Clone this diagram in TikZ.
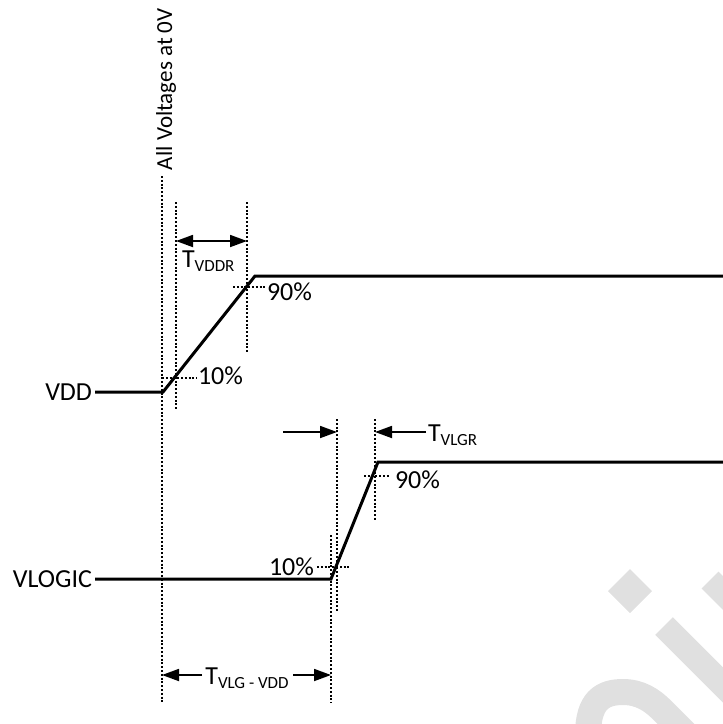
\documentclass[tikz,border=0pt]{standalone}
\usepackage{fontspec}
\setmainfont{Carlito}
\usetikzlibrary{arrows.meta}
\begin{document}
\begin{tikzpicture}[x=1pt,y=-1pt,
  sig/.style={line width=3pt},
  guide/.style={line width=1.3pt, dash pattern=on 2pt off 1.8pt},
  dimline/.style={line width=1.8pt},
  tip/.style={-{Triangle[length=17pt,width=12pt]}},
  twotips/.style={{Triangle[length=17pt,width=12pt]}-{Triangle[length=17pt,width=12pt]}},
  lbl/.style={font=\fontsize{26}{30}\selectfont, inner sep=0pt, outer sep=0pt},
  wm/.style={black!12}]
\useasboundingbox (0,0) rectangle (723,724);
% watermark fragment
\begin{scope}
\clip (0,0) rectangle (723,724);
\fill[wm] (630,569) -- (652,591) -- (630,613) -- (608,591) -- cycle;
\draw[wm, line width=25pt] (664,626) -- (780,742);
\draw[wm, line width=24pt] (710,580) -- (860,730);
\draw[wm, line width=26pt] (588,735) .. controls (588,700) and (603,692) .. (623,692) .. controls (640,692) and (652,700) .. (662,710) -- (700,748);
\end{scope}
% labels
\node[lbl, anchor=east] (vdd) at (92,392) {VDD};
\node[lbl, anchor=east] (vlogic) at (92,579) {VLOGIC};
\node[lbl, font=\fontsize{23}{28}\selectfont, rotate=90, anchor=base west] (allv) at (172,170) {All Voltages at 0V};
% signals
\coordinate (v0) at (163,392); \coordinate (v1) at (255,276); \coordinate (v2) at (723,276);
\coordinate (l0) at (331,579); \coordinate (l1) at (378,462); \coordinate (l2) at (723,462);
\draw[sig] ([xshift=3pt]vdd.east) -- (v0) -- (v1) -- (v2);
\draw[sig] ([xshift=3pt]vlogic.east) -- (l0) -- (l1) -- (l2);
% guides
\draw[guide] (162,176) -- (162,703);
\draw[guide] (176,202) -- (176,410);
\draw[guide] (247,202) -- (247,353);
\draw[guide] (337,419) -- (337,612);
\draw[guide] (375,419) -- (375,520);
\draw[guide] (331,535) -- (331,703);
\draw[guide] (162,378) -- (197,378);
\draw[guide] (233,287) -- (265,287);
\draw[guide] (364,476) -- (390,476);
\draw[guide] (317,567) -- (349,567);
% percent labels
\node[lbl, anchor=base west] (p10a) at (198,384) {10\%};
\node[lbl, anchor=base west] (p90a) at (267,300) {90\%};
\node[lbl, anchor=base west] (p90b) at (395,488) {90\%};
\node[lbl, anchor=base east] (p10b) at (314,575) {10\%};
% T_VDDR
\coordinate (ra) at (176,241); \coordinate (rb) at (247,241);
\draw[dimline, twotips] (ra) -- (rb);
\node[lbl, anchor=base west] (tvddr) at (182,267) {T\raisebox{-4pt}{\fontsize{17}{17}\selectfont VDDR}};
% T_VLGR
\coordinate (ga) at (283,432); \coordinate (gb) at (337,432);
\coordinate (gc) at (426,432); \coordinate (gd) at (375,432);
\draw[dimline, tip] (ga) -- (gb);
\draw[dimline, tip] (gc) -- (gd);
\node[lbl, anchor=base west] (tvlgr) at (428,441) {T\raisebox{-4pt}{\fontsize{17}{17}\selectfont VLGR}};
% T_VLG-VDD
\node[lbl, anchor=base] (tvv) at (247,684) {T\raisebox{-4pt}{\fontsize{17}{17}\selectfont VLG - VDD}};
\coordinate (ka) at (202,675); \coordinate (kb) at (162,675);
\coordinate (kc) at (293,675); \coordinate (kd) at (331,675);
\draw[dimline, tip] (ka) -- (kb);
\draw[dimline, tip] (kc) -- (kd);
\end{tikzpicture}
\end{document}
